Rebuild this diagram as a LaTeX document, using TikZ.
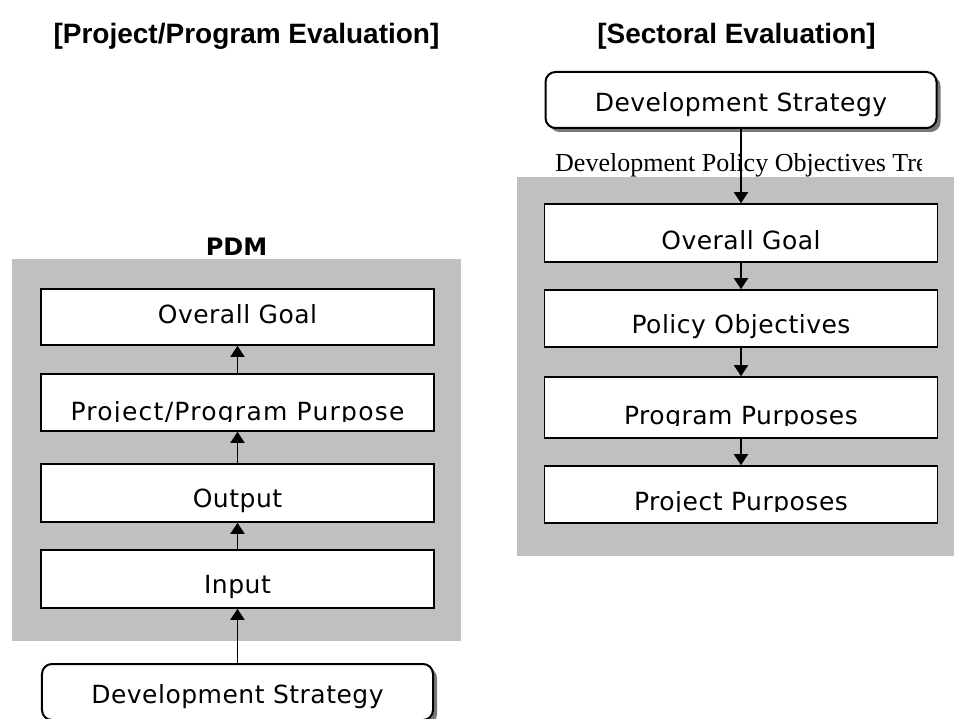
\documentclass[tikz,border=0pt]{standalone}
\usepackage{fontspec}
\setmainfont{DejaVu Sans}
\newfontfamily\boxfont[LetterSpace=2]{DejaVu Sans}
\newfontfamily\wideboxfont[LetterSpace=5]{DejaVu Sans}
\newfontfamily\headfont{Liberation Sans}
\newfontfamily\treefont{Liberation Serif}
\usetikzlibrary{arrows.meta,shadows}

\definecolor{panelgray}{RGB}{192,192,192}
\definecolor{shadowgray}{RGB}{120,120,120}

\begin{document}
\begin{tikzpicture}[x=1bp,y=-1bp,
  panel/.style={fill=panelgray,draw=none},
  stage/.style={rectangle,draw=black,line width=1.6bp,fill=white,
    minimum width=393bp,inner sep=0pt},
  strategy/.style={rectangle,draw=black,line width=2bp,fill=white,
    rounded corners=10bp,minimum width=391bp,minimum height=56bp,inner sep=0pt,
    drop shadow={shadow xshift=4bp,shadow yshift=-4bp,fill=shadowgray,opacity=1}},
  boxtext/.style={font=\boxfont\fontsize{25bp}{30bp}\selectfont,inner sep=0pt,anchor=base},
  heading/.style={font=\headfont\bfseries\fontsize{28bp}{32bp}\selectfont,inner sep=0pt,anchor=base},
  treelabel/.style={font=\treefont\fontsize{26bp}{30bp}\selectfont,inner sep=0pt,anchor=base west},
  link/.style={line width=1.6bp,-{Triangle[width=14bp,length=11bp]}}]

\useasboundingbox (0,0) rectangle (954,719);
\fill[white] (0,0) rectangle (954,719);

% headings
\node[heading] (lhead) at (246.5,44) {[Project/Program Evaluation]};
\node[heading] (rhead) at (736.5,44) {[Sectoral Evaluation]};
\node[font=\bfseries\fontsize{24bp}{28bp}\selectfont,inner sep=0pt,anchor=base] (pdm) at (236.5,255) {PDM};

% grey panels
\fill[panel] (12,259) rectangle (461,641);
\fill[panel] (517,177) rectangle (954,556);

% label of the sectoral tree, cut off by its frame
\begin{scope}
  \clip (540,140) rectangle (921,177);
  \node[treelabel] (treelbl) at (555,172) {Development Policy Objectives Tree};
\end{scope}

% ---------- project / program side (PDM) ----------
\node[stage,minimum height=56bp] (lgoal)   at (237.5,317)   {};
\node[stage,minimum height=57bp] (lpurp)   at (237.5,402.5) {};
\node[stage,minimum height=58bp] (loutput) at (237.5,493)   {};
\node[stage,minimum height=58bp] (linput)  at (237.5,579)   {};
\node[strategy] (lstrat) at (237.5,692) {};

\node[boxtext] (lgoal-t)   at (lgoal.center |- 0,323)   {Overall Goal};
\begin{scope}
  \clip (42,380) rectangle (433,421);
  \node[boxtext,font=\wideboxfont\fontsize{25bp}{30bp}\selectfont] (lpurp-t)
    at (lpurp.center |- 0,420) {Project/Program Purpose};
\end{scope}
\node[boxtext] (loutput-t) at (loutput.center |- 0,507) {Output};
\node[boxtext] (linput-t)  at (linput.center |- 0,593)  {Input};
\node[boxtext] (lstrat-t)  at (lstrat.center |- 0,703)  {Development Strategy};

\draw[link] (lstrat.north)  -- (linput.south);
\draw[link] (linput.north)  -- (loutput.south);
\draw[link] (loutput.north) -- (lpurp.south);
\draw[link] (lpurp.north)   -- (lgoal.south);

% ---------- sectoral side ----------
\node[strategy] (rstrat) at (741,100) {};
\node[stage,minimum height=58bp] (rgoal) at (741,233)   {};
\node[stage,minimum height=57bp] (rpol)  at (741,318.5) {};
\node[stage,minimum height=61bp] (rprog) at (741,407.5) {};
\node[stage,minimum height=57bp] (rproj) at (741,494.5) {};

\node[boxtext] (rstrat-t) at (rstrat.center |- 0,112) {Development Strategy};
\node[boxtext] (rgoal-t)  at (rgoal.center |- 0,249)  {Overall Goal};
\node[boxtext] (rpol-t)   at (rpol.center |- 0,333)   {Policy Objectives};
\begin{scope}
  \clip (546,380) rectangle (936,425.5);
  \node[boxtext] (rprog-t) at (rprog.center |- 0,424) {Program Purposes};
\end{scope}
\begin{scope}
  \clip (546,470) rectangle (936,511.5);
  \node[boxtext] (rproj-t) at (rproj.center |- 0,510) {Project Purposes};
\end{scope}

\draw[link] (rstrat.south) -- (rgoal.north);
\draw[link] (rgoal.south)  -- (rpol.north);
\draw[link] (rpol.south)   -- (rprog.north);
\draw[link] (rprog.south)  -- (rproj.north);
\end{tikzpicture}
\end{document}
